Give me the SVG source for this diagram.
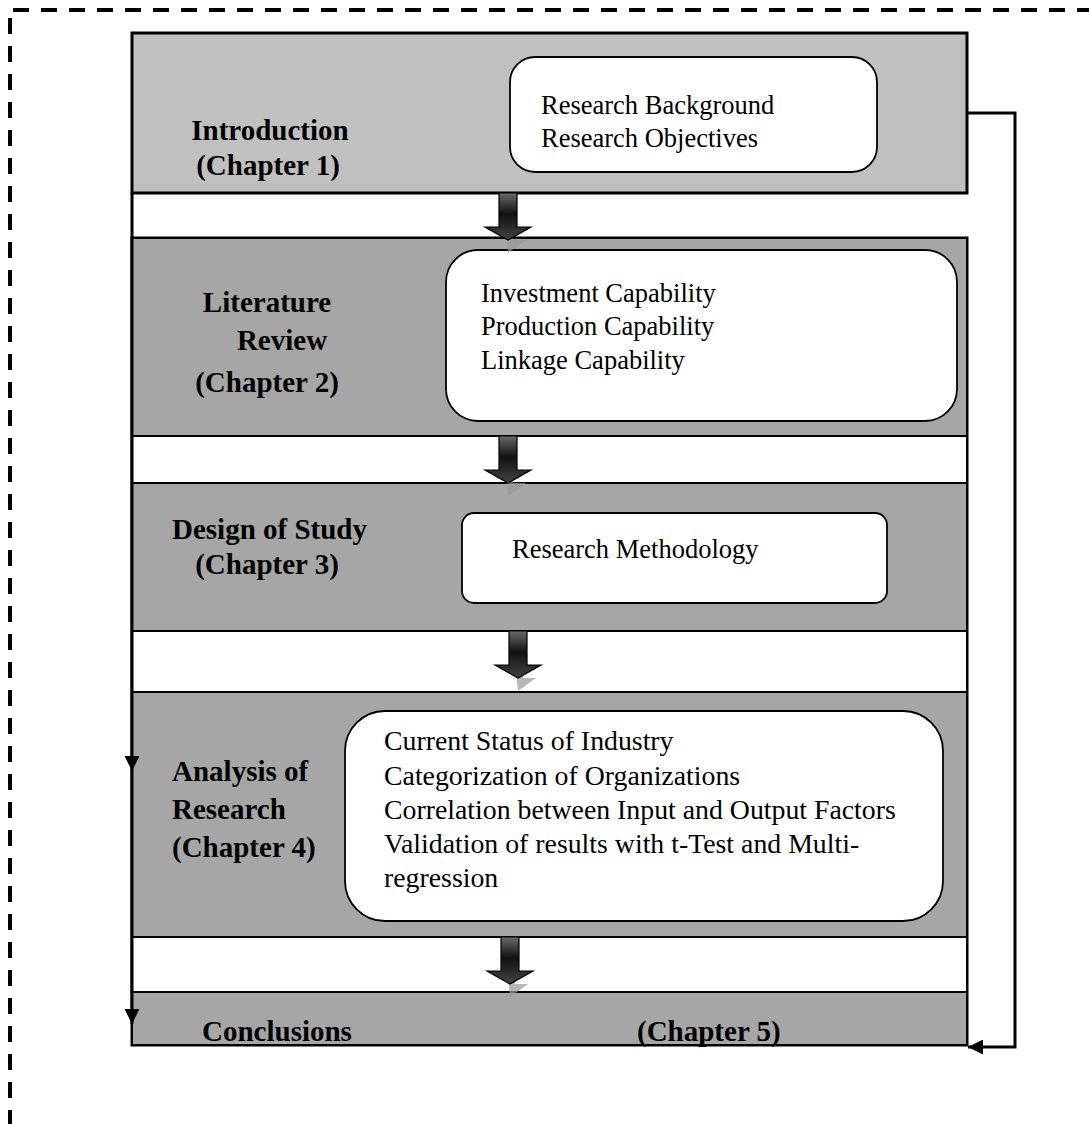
<svg xmlns="http://www.w3.org/2000/svg" width="1089" height="1124" viewBox="0 0 1089 1124">
<style>
.t{font-family:"Liberation Serif","Times New Roman",serif;font-size:26.5px;fill:#000}
.a{font-size:27.8px}
.b{font-weight:bold;font-size:29px}
.band{fill:#a6a6a6;stroke:#000;stroke-width:2}
.wb{fill:#fff;stroke:#000;stroke-width:2}
.rb{fill:#fff;stroke:#000;stroke-width:1.8}
.ln{fill:none;stroke:#000;stroke-width:3}
</style>
<defs>
<linearGradient id="g" x1="0" y1="0" x2="0" y2="1">
<stop offset="0" stop-color="#6a6a6a"/>
<stop offset="0.45" stop-color="#111"/>
<stop offset="1" stop-color="#444"/>
</linearGradient>
<marker id="ah2" viewBox="0 0 10 10" refX="10" refY="5" markerWidth="15" markerHeight="15" orient="auto" markerUnits="userSpaceOnUse">
<path d="M0,0L10,5L0,10z" fill="#000"/>
</marker>
<g id="arrowShape">
<path d="M8,10L18,14L18,47L31,47L13,60Z" fill="#999" opacity="0.7"/>
<path d="M4,0L22,0L22,34L36,34L13,47L-10,34L4,34Z" fill="url(#g)" stroke="#000" stroke-width="1.2"/>
</g>
</defs>
<path d="M13,10H1089M10,18V1124" fill="none" stroke="#000" stroke-width="4" stroke-dasharray="16,12"/>

<g id="intro">
<rect x="132" y="33" width="835" height="160" fill="#c0c0c0" stroke="#000" stroke-width="3"/>
<rect class="rb" x="510" y="57" width="367" height="115" rx="25"/>
<text class="t b" x="270" y="140" text-anchor="middle">Introduction</text>
<text class="t b" x="268" y="175" text-anchor="middle">(Chapter 1)</text>
<text class="t" x="541" y="114">Research Background</text>
<text class="t" x="541" y="147">Research Objectives</text>
</g>

<g id="frame">
<rect x="132" y="238" width="835" height="807" fill="#fff" stroke="#000" stroke-width="3"/>
</g>

<g id="literature">
<rect class="band" x="132" y="238" width="835" height="198"/>
<rect class="rb" x="446" y="250" width="511" height="171" rx="32"/>
<text class="t b" x="267" y="312" text-anchor="middle">Literature</text>
<text class="t b" x="282" y="350" text-anchor="middle">Review</text>
<text class="t b" x="267" y="392" text-anchor="middle">(Chapter 2)</text>
<text class="t" x="481" y="302">Investment Capability</text>
<text class="t" x="481" y="335">Production Capability</text>
<text class="t" x="481" y="369">Linkage Capability</text>
</g>

<g id="gap1"><rect class="wb" x="132" y="436" width="835" height="47"/></g>

<g id="design">
<rect class="band" x="132" y="483" width="835" height="148"/>
<rect class="rb" x="462" y="513" width="425" height="90" rx="12"/>
<text class="t b" x="172" y="539">Design of Study</text>
<text class="t b" x="267" y="574" text-anchor="middle">(Chapter 3)</text>
<text class="t" x="512" y="558">Research Methodology</text>
</g>

<g id="gap2"><rect class="wb" x="132" y="631" width="835" height="61"/></g>

<g id="analysis">
<rect class="band" x="132" y="692" width="835" height="245"/>
<rect class="rb" x="345" y="711" width="598" height="210" rx="40"/>
<text class="t b" x="172" y="781">Analysis of</text>
<text class="t b" x="172" y="819">Research</text>
<text class="t b" x="172" y="857">(Chapter 4)</text>
<text class="t a" x="384" y="750">Current Status of Industry</text>
<text class="t a" x="384" y="785">Categorization of Organizations</text>
<text class="t a" x="384" y="819">Correlation between Input and Output Factors</text>
<text class="t a" x="384" y="853">Validation of results with t-Test and Multi-</text>
<text class="t a" x="384" y="887">regression</text>
</g>

<g id="gap3"><rect class="wb" x="132" y="937" width="835" height="55"/></g>

<g id="conclusions">
<rect class="band" x="132" y="992" width="835" height="53"/>
<text class="t b" x="202" y="1041">Conclusions</text>
<text class="t b" x="637" y="1041">(Chapter 5)</text>
</g>

<g id="connectors">
<use href="#arrowShape" x="495" y="193"/>
<use href="#arrowShape" x="495" y="436"/>
<use href="#arrowShape" x="505" y="631"/>
<use href="#arrowShape" x="497" y="937"/>
<path class="ln" d="M967,113H1015V1047H968" marker-end="url(#ah2)"/>
<path class="ln" d="M132,193V771" marker-end="url(#ah2)"/>
<path class="ln" d="M132,771V1024" marker-end="url(#ah2)"/>
</g>
</svg>
